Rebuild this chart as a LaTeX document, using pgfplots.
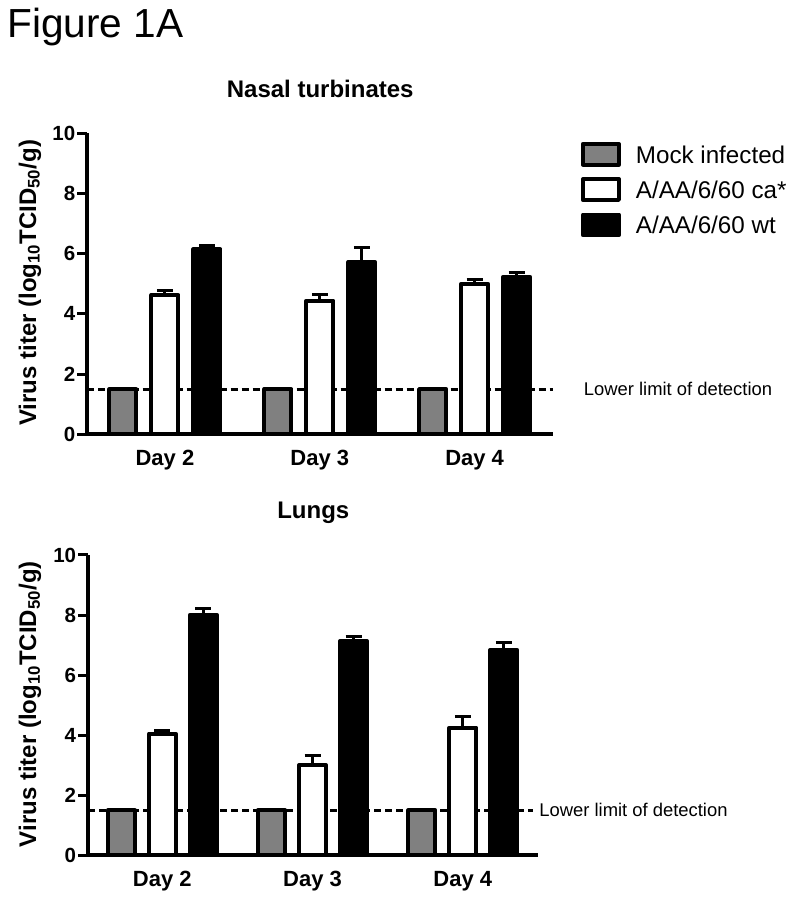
\documentclass[border=0pt]{standalone}
\usepackage{pgfplots}
\usepackage{pgfplotstable}
\usepackage{fontspec}
\setmainfont{Liberation Sans}
\pgfplotsset{compat=1.18}
\definecolor{mockgray}{gray}{0.5}
% x: 0=Day 2, 1=Day 3, 2=Day 4; y: mean titer; err: upper error
\pgfplotstableread{
x y err
0 1.5 0
1 1.5 0
2 1.5 0
}\mock
\pgfplotstableread{
x y err
0 4.63 0.15
1 4.44 0.20
2 5.00 0.15
}\nasalca
\pgfplotstableread{
x y err
0 6.15 0.12
1 5.72 0.48
2 5.23 0.14
}\nasalwt
\pgfplotstableread{
x y err
0 4.05 0.12
1 3.00 0.32
2 4.25 0.38
}\lungca
\pgfplotstableread{
x y err
0 8.01 0.20
1 7.13 0.16
2 6.84 0.25
}\lungwt
\pgfplotsset{
  titerbar/.style={ybar, bar width=27pt, draw=black, line width=4pt, line join=round,
    bar shift=#1,
    error bars/y dir=plus, error bars/y explicit,
    error bars/error bar style={line width=3pt,solid,xshift=#1},
    error bars/error mark options={rotate=90, mark size=8pt, line width=3pt},
    legend image code/.code={\path[draw=none,fill=none] (0pt,0pt) -- (55pt,0pt);\draw[##1,line width=4pt,solid] (2pt,-9.3pt) rectangle (38pt,11.4pt);}},
  titeraxis/.style={
    scale only axis, clip=false, ymin=0, ymax=10, ytick={0,2,4,6,8,10},
    axis x line=bottom, axis y line=left, axis line style={-, line width=4pt},
    xtick={0,1,2}, xticklabels={Day 2,Day 3,Day 4},
    major x tick style={draw=none}, major y tick style={line width=3pt,black},
    tick align=outside, major tick length=10pt,
    tick label style={font=\fontsize{20.5}{20.5}\selectfont\bfseries},
    yticklabel style={/pgf/number format/assume math mode=true, inner sep=0pt, xshift=-2pt},
    xticklabel style={anchor=base, yshift=-21pt, font=\fontsize{22}{22}\selectfont\bfseries},
    label style={font=\fontsize{24}{24}\selectfont\bfseries},
    ylabel={Virus titer (log\textsubscript{10}TCID\textsubscript{50}/g)},
    title style={font=\fontsize{24}{24}\selectfont\bfseries, anchor=base, yshift=30pt},
  }
}
\begin{document}
\begin{tikzpicture}
\path[use as bounding box] (0,0) rectangle (794pt,900pt);
\node[anchor=base west, inner sep=0pt, font=\fontsize{40.6}{40.6}\selectfont] at (7pt,862pt) {Figure 1A};
\begin{axis}[titeraxis, at={(87.5pt,465.7pt)}, anchor=south west,
  width=465.5pt, height=301pt, xmin=-0.5, xmax=2.506,
  title={Nasal turbinates},
  ylabel style={at={(axis description cs:-0.1106,0.503)}, anchor=base},
  legend style={at={(axis description cs:1.0595,0.972)}, anchor=north west, draw=none, fill=none,
    inner sep=0pt, row sep=10.6pt, font=\fontsize{24.2}{24.2}\selectfont,
    nodes={inner sep=0pt}},
  legend cell align=left]
\addplot[sharp plot, forget plot, black, line width=3pt, dash pattern=on 7pt off 4pt] coordinates {(-0.5,1.5) (2.506,1.5)};
\addplot[titerbar=-42pt, fill=mockgray] table[x=x,y=y,y error=err] {\mock};
\addplot[titerbar=0pt, fill=white] table[x=x,y=y,y error=err] {\nasalca};
\addplot[titerbar=42pt, fill=black] table[x=x,y=y,y error=err] {\nasalwt};
\legend{Mock infected, A/AA/6/60 ca*, A/AA/6/60 wt}
\node[anchor=west, inner sep=0pt, font=\fontsize{18.4}{18.4}\selectfont] at (axis description cs:1.066,0.15) {Lower limit of detection};
\end{axis}
\begin{axis}[titeraxis, at={(88.3pt,44.7pt)}, anchor=south west,
  width=450pt, height=300.3pt, xmin=-0.493, xmax=2.503,
  title={Lungs},
  ylabel style={at={(axis description cs:-0.116,0.503)}, anchor=base}]
\addplot[sharp plot, forget plot, black, line width=3pt, dash pattern=on 7pt off 4pt] coordinates {(-0.493,1.5) (2.468,1.5)};
\addplot[titerbar=-41pt, fill=mockgray] table[x=x,y=y,y error=err] {\mock};
\addplot[titerbar=0pt, fill=white] table[x=x,y=y,y error=err] {\lungca};
\addplot[titerbar=41pt, fill=black] table[x=x,y=y,y error=err] {\lungwt};
\node[anchor=west, inner sep=0pt, font=\fontsize{18.4}{18.4}\selectfont] at (axis description cs:1.002,0.15) {Lower limit of detection};
\end{axis}
\end{tikzpicture}
\end{document}
